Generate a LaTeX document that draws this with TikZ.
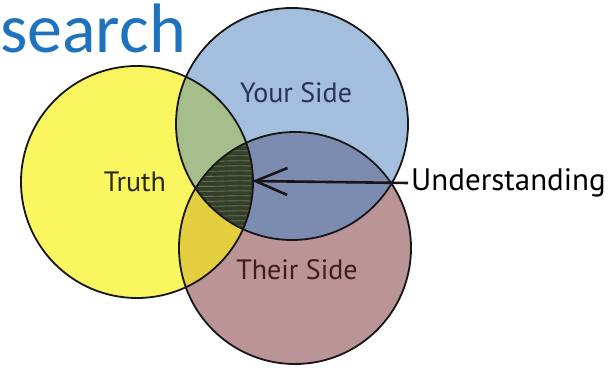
\documentclass[tikz,border=0pt]{standalone}
\usepackage{fontspec}
\setmainfont{PT Sans}
\newfontfamily\titlefont{Carlito}
\usetikzlibrary{arrows.meta}
\definecolor{cyel}{RGB}{250,246,95}
\definecolor{cblue}{RGB}{164,190,222}
\definecolor{cbrown}{RGB}{186,148,150}
\definecolor{cgreen}{RGB}{166,190,140}
\definecolor{cgold}{RGB}{226,206,62}
\definecolor{cdblue}{RGB}{124,139,176}
\definecolor{colive}{RGB}{52,62,40}
\definecolor{cstreak}{RGB}{112,128,88}
\definecolor{ctitle}{RGB}{30,115,190}
\definecolor{cline}{RGB}{22,22,22}
\tikzset{
  outline/.style={draw=cline, line width=1.8pt},
  lab/.style={inner sep=0pt, font=\fontsize{28}{30}\selectfont},
}
\begin{document}
\begin{tikzpicture}[x=1pt,y=-1pt]
\useasboundingbox (0,0) rectangle (612,371);
\fill[white] (0,0) rectangle (612,371);
\coordinate (Y) at (137,182);
\coordinate (B) at (292,124);
\coordinate (R) at (295,248);
\def\rr{116pt}
% base fills
\fill[cyel] (Y) circle[radius=\rr];
\fill[cblue] (B) circle[radius=\rr];
\fill[cbrown] (R) circle[radius=\rr];
% pairwise
\begin{scope}\clip (Y) circle[radius=\rr]; \fill[cgreen] (B) circle[radius=\rr];\end{scope}
\begin{scope}\clip (Y) circle[radius=\rr]; \fill[cgold] (R) circle[radius=\rr];\end{scope}
\begin{scope}\clip (B) circle[radius=\rr]; \fill[cdblue] (R) circle[radius=\rr];\end{scope}
% triple
\begin{scope}
  \clip (Y) circle[radius=\rr];
  \clip (B) circle[radius=\rr];
  \clip (R) circle[radius=\rr];
  \fill[colive] (180,130) rectangle (270,250);
  \foreach \yy in {146,151,...,236} {
    \draw[cstreak, line width=0.9pt, opacity=0.8] (180,\yy) .. controls (215,\yy+1.5) and (235,\yy-1.5) .. (260,\yy+0.5);
  }
\end{scope}
% outlines
\draw[outline] (Y) circle[radius=\rr];
\draw[outline] (B) circle[radius=\rr];
\draw[outline] (R) circle[radius=\rr];
% labels
\node[anchor=base west, inner sep=0pt, text=ctitle, font=\titlefont\fontsize{70}{72}\selectfont] (title) at (0,53) {search};
\node[lab, text={rgb,255:red,40;green,40;blue,15}] (truth) at (135,182) {Truth};
\node[lab, text={rgb,255:red,38;green,52;blue,85}] (your) at (296,93) {Your Side};
\node[lab, text={rgb,255:red,60;green,30;blue,30}] (their) at (297,270) {Their Side};
\node[inner sep=0pt, anchor=west, font=\fontsize{31}{33}\selectfont] (und) at (411,183) {Understanding};
\coordinate (tip) at (252,181);
\draw[cline, line width=2.6pt, -{Straight Barb[length=32pt,width=27pt,line width=2.6pt]}] ([xshift=-3pt]und.west) -- (tip);
\end{tikzpicture}
\end{document}
